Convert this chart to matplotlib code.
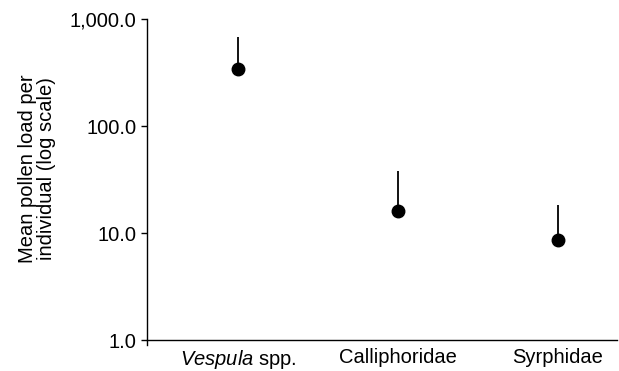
import matplotlib
matplotlib.use('Agg')
import matplotlib.pyplot as plt
from matplotlib.ticker import FixedLocator, FuncFormatter

plt.rcParams['font.family'] = ['Liberation Sans', 'DejaVu Sans']
plt.rcParams['mathtext.fontset'] = 'custom'
plt.rcParams['mathtext.rm'] = 'Liberation Sans'
plt.rcParams['mathtext.it'] = 'Liberation Sans:italic'

# data
groups = ['$\\it{Vespula}$ spp.', 'Calliphoridae', 'Syrphidae']
means = [343, 16.2, 8.6]
upper = [675, 38.2, 18.3]   # top of error bar

fig = plt.figure(figsize=(6.19, 3.71), dpi=100)
ax = fig.add_axes([147/619, 1 - 345/371, (617 - 147)/619, (345 - 19)/371])

x = list(range(len(groups)))
err_up = [u - m for u, m in zip(upper, means)]
err_lo = [0] * len(means)
ax.errorbar(x, means, yerr=[err_lo, err_up], fmt='o', color='black',
            markersize=9, elinewidth=1.3, capsize=0)

ax.set_yscale('log')
ax.set_ylim(0.9, 1000)
ax.set_xlim(-0.57, 2.37)
ax.yaxis.set_major_locator(FixedLocator([1, 10, 100, 1000]))
ax.yaxis.set_minor_locator(FixedLocator([]))
ax.yaxis.set_major_formatter(FuncFormatter(lambda v, p: f'{v:,.1f}'))

ax.set_xticks(x)
ax.set_xticklabels(groups)

ax.spines['top'].set_visible(False)
ax.spines['right'].set_visible(False)
ax.spines['bottom'].set_position(('data', 1))
ax.spines['left'].set_linewidth(1.0)
ax.spines['bottom'].set_linewidth(1.0)

ax.tick_params(axis='y', length=4, width=1.0, pad=3.5, labelsize=14.5)
ax.tick_params(axis='x', length=0, pad=5.5, labelsize=14.5)

fig.text(37/619, 1 - 169/371, 'Mean pollen load per\nindividual (log scale)',
         rotation=90, ha='center', va='center', fontsize=14.5, linespacing=0.95)

fig.savefig('out.png', dpi=100)
